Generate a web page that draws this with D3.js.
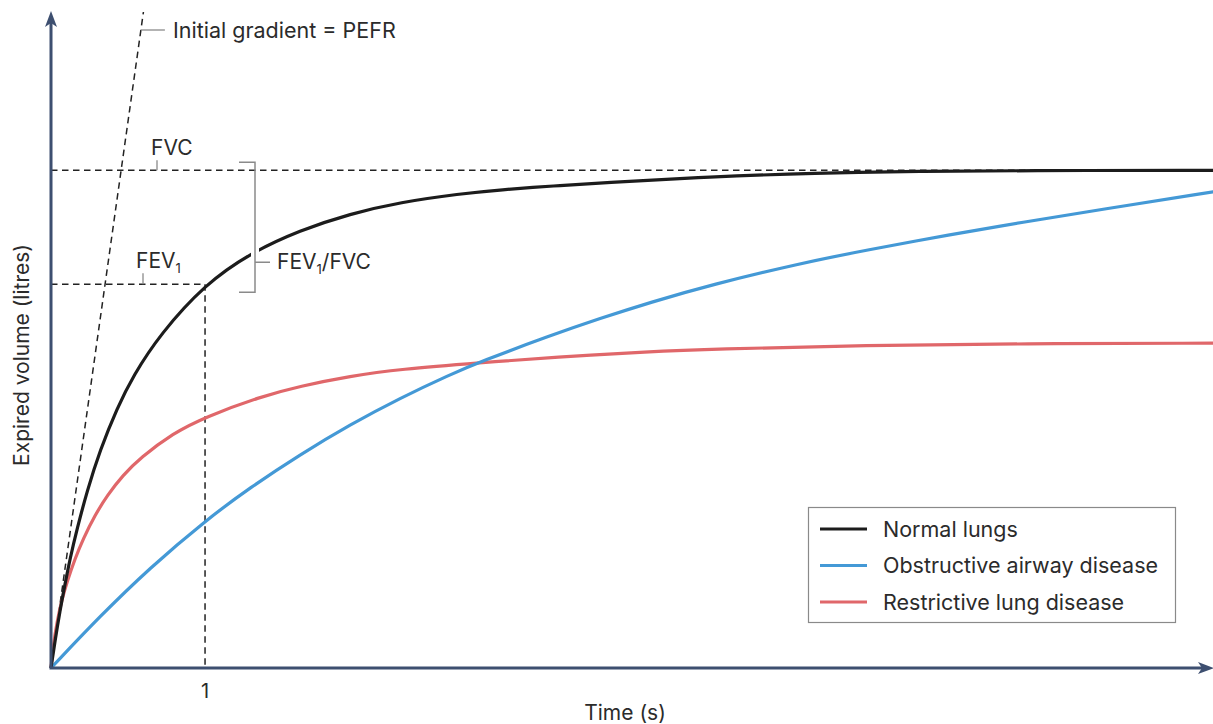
<!DOCTYPE html>
<html>
<head>
<meta charset="utf-8">
<script src="https://cdn.jsdelivr.net/npm/d3@7"></script>
<style>
  body { margin: 0; background: #fff; }
  svg text { font-family: Inter, Lato, sans-serif; fill: #2b2b2b; }
</style>
</head>
<body>
<div id="chart"></div>
<script>
const svgWidth = 1213,
    svgHeight = 724;

// time (s) vs expired volume (litres)
const normalLungs = [[0,0],[0.026,0.271],[0.058,0.572],[0.091,0.843],[0.123,1.094],[0.169,1.396],
    [0.234,1.777],[0.318,2.189],[0.429,2.61],[0.532,2.932],[0.708,3.353],[1.0,3.855],[1.292,4.167],
    [1.617,4.398],[1.942,4.563],[2.266,4.679],[2.656,4.764],[2.916,4.804],[3.273,4.844],[3.565,4.873],
    [4.286,4.935],[4.955,4.972],[5.643,4.99],[6.305,4.997],[7.552,5.0]];
const obstructive = [[0,0],[0.318,0.521],[0.643,1.008],[1.0,1.478],[1.292,1.812],[1.617,2.144],
    [1.942,2.445],[2.266,2.711],[2.591,2.947],[2.786,3.076],[3.24,3.339],[3.565,3.512],[3.89,3.673],
    [4.286,3.85],[4.864,4.065],[5.292,4.198],[5.838,4.353],[6.305,4.478],[6.812,4.604],[7.552,4.785]];
const restrictive = [[0,0],[0.013,0.211],[0.039,0.464],[0.071,0.69],[0.104,0.865],[0.156,1.098],
    [0.208,1.295],[0.286,1.536],[0.364,1.732],[0.468,1.938],[0.578,2.108],[0.792,2.359],[1.0,2.52],
    [1.357,2.725],[1.617,2.831],[1.942,2.932],[2.266,3.002],[2.786,3.067],[3.273,3.122],[3.89,3.178],
    [4.286,3.203],[5.292,3.243],[6.305,3.258],[7.552,3.263]];

const seriesNames = ["Normal lungs", "Obstructive airway disease", "Restrictive lung disease"];
const seriesColors = ["#1c1c1c", "#4499d6", "#e0676a"];
const seriesData = [normalLungs, obstructive, restrictive];

const fvc = 5.0, fev1 = 3.855, fev1Time = 1;
const pefrEnd = [0.6, 6.59]; // end of initial gradient line
const xTicks = [1];

let svg = d3.select("#chart").append("svg")
    .attr("width", svgWidth)
    .attr("height", svgHeight);

let x = d3.scaleLinear().domain([0, 7.55]).range([51, 1214]);
let y = d3.scaleLinear().domain([0, 6.6]).range([668, 11]);

// b-spline evens out small reading errors between points
let line = d3.line()
    .x(d => x(d[0]))
    .y(d => y(d[1]))
    .curve(d3.curveBasis);

// dashed guides
let dash = svg.append("g")
    .attr("stroke", "#222")
    .attr("stroke-width", 1.5)
    .attr("stroke-dasharray", "6.5,4.5")
    .attr("fill", "none");
dash.append("line")
    .attr("x1", x(0)).attr("y1", y(0))
    .attr("x2", x(pefrEnd[0])).attr("y2", y(pefrEnd[1]));
dash.append("line")
    .attr("x1", x(0)).attr("y1", y(fvc))
    .attr("x2", x(7.55)).attr("y2", y(fvc));
dash.append("line")
    .attr("x1", x(0)).attr("y1", y(fev1))
    .attr("x2", x(fev1Time)).attr("y2", y(fev1));
dash.append("line")
    .attr("x1", x(fev1Time)).attr("y1", y(fev1))
    .attr("x2", x(fev1Time)).attr("y2", y(0));

// curves (restrictive first, normal on top)
[2, 1, 0].forEach(i => {
    svg.append("path")
        .datum(seriesData[i])
        .attr("fill", "none")
        .attr("stroke", seriesColors[i])
        .attr("stroke-width", 3.2)
        .attr("d", line);
});

// FEV1/FVC bracket, with a white gap where it crosses the curve
let bx = 255, bTop = y(fvc) - 8, bBot = y(fev1) + 8;
svg.append("line")
    .attr("x1", bx).attr("x2", bx)
    .attr("y1", 232).attr("y2", 268)
    .attr("stroke", "#fff").attr("stroke-width", 8);
svg.append("path")
    .attr("d", `M${bx - 16},${bTop}H${bx}V${bBot}H${bx - 16}M${bx},${bBot - 30}H${bx + 15}`)
    .attr("fill", "none")
    .attr("stroke", "#8a8a8a")
    .attr("stroke-width", 1.5);

// axes with arrowheads
let axisColor = "#3d4f70";
svg.append("line")
    .attr("x1", x(0)).attr("y1", y(0))
    .attr("x2", x(0)).attr("y2", y(6.6) + 12)
    .attr("stroke", axisColor).attr("stroke-width", 3);
svg.append("line")
    .attr("x1", x(0) - 1.5).attr("y1", y(0))
    .attr("x2", x(7.55) - 12).attr("y2", y(0))
    .attr("stroke", axisColor).attr("stroke-width", 3);
svg.append("path")
    .attr("d", `M${x(0)},${y(6.6)}L${x(0) + 6},${y(6.6) + 16}L${x(0)},${y(6.6) + 12}L${x(0) - 6},${y(6.6) + 16}Z`)
    .attr("fill", axisColor);
svg.append("path")
    .attr("d", `M${x(7.55)},${y(0)}L${x(7.55) - 16},${y(0) - 6}L${x(7.55) - 12},${y(0)}L${x(7.55) - 16},${y(0) + 6}Z`)
    .attr("fill", axisColor);

svg.selectAll(".xtick")
    .data(xTicks)
    .join("text")
    .attr("class", "xtick")
    .attr("x", d => x(d))
    .attr("y", 698)
    .attr("text-anchor", "middle")
    .attr("font-size", 20)
    .text(d => d);

// axis titles
svg.append("text")
    .attr("x", 625).attr("y", 720)
    .attr("text-anchor", "middle")
    .attr("font-size", 21)
    .text("Time (s)");
svg.append("text")
    .attr("transform", "rotate(-90)")
    .attr("x", -355).attr("y", 29)
    .attr("text-anchor", "middle")
    .attr("font-size", 21)
    .text("Expired volume (litres)");

// annotations
let grey = "#8a8a8a";
let pefrY = 30;
let pefrX = x(pefrEnd[0] * (y(0) - pefrY) / (y(0) - y(pefrEnd[1])));
svg.append("line")
    .attr("x1", pefrX).attr("x2", pefrX + 24)
    .attr("y1", pefrY).attr("y2", pefrY)
    .attr("stroke", grey).attr("stroke-width", 1.3);
svg.append("text")
    .attr("x", 173).attr("y", 38)
    .attr("font-size", 21.5)
    .text("Initial gradient = PEFR");

svg.append("line")
    .attr("x1", 157).attr("x2", 157)
    .attr("y1", y(fvc) - 10).attr("y2", y(fvc))
    .attr("stroke", grey).attr("stroke-width", 1.3);
svg.append("text")
    .attr("x", 151).attr("y", 155)
    .attr("font-size", 21)
    .text("FVC");

svg.append("line")
    .attr("x1", 143).attr("x2", 143)
    .attr("y1", y(fev1) - 11).attr("y2", y(fev1))
    .attr("stroke", grey).attr("stroke-width", 1.3);
let fevLabel = svg.append("text")
    .attr("x", 136).attr("y", 268)
    .attr("font-size", 21);
fevLabel.append("tspan").text("FEV");
fevLabel.append("tspan").attr("font-size", 13).attr("dy", 5).text("1");

let ratioLabel = svg.append("text")
    .attr("x", 277).attr("y", 269)
    .attr("font-size", 21);
ratioLabel.append("tspan").text("FEV");
ratioLabel.append("tspan").attr("font-size", 13).attr("dy", 5).text("1");
ratioLabel.append("tspan").attr("dy", -5).text("/FVC");

// legend
let legend = svg.append("g");
legend.append("rect")
    .attr("x", 808.5).attr("y", 507.5)
    .attr("width", 367).attr("height", 115)
    .attr("fill", "#fff")
    .attr("stroke", "#8a8a8a").attr("stroke-width", 1.2);
let items = legend.selectAll(".item")
    .data(seriesNames)
    .join("g")
    .attr("class", "item")
    .attr("transform", (d, i) => `translate(0, ${529 + i * 36.5})`);
items.append("line")
    .attr("x1", 820).attr("x2", 867)
    .attr("stroke", (d, i) => seriesColors[i])
    .attr("stroke-width", 3.2);
items.append("text")
    .attr("x", 883).attr("y", 7.5)
    .attr("font-size", 21.5)
    .text(d => d);
</script>
</body>
</html>
